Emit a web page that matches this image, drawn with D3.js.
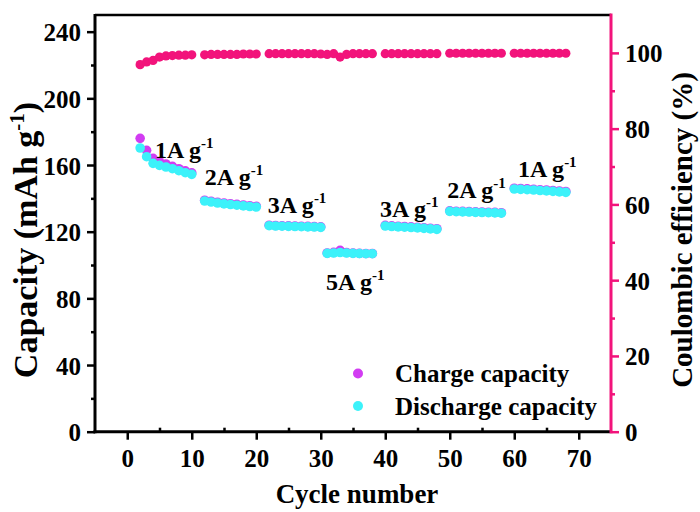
<!DOCTYPE html>
<html>
<head>
<meta charset="utf-8">
<script src="https://cdn.jsdelivr.net/npm/d3@7"></script>
<style>
  body { margin: 0; background: #fff; }
  svg text { font-family: "Liberation Serif", "Times New Roman", serif; font-weight: bold; fill: #000; }
</style>
</head>
<body>
<div id="chart"></div>
<script>
// cycle numbers that have a point
const cycles = [2, 3, 4, 5, 6, 7, 8, 9, 10,
  12, 13, 14, 15, 16, 17, 18, 19, 20,
  22, 23, 24, 25, 26, 27, 28, 29, 30, 31, 32, 33, 34, 35, 36, 37, 38,
  40, 41, 42, 43, 44, 45, 46, 47, 48,
  50, 51, 52, 53, 54, 55, 56, 57, 58,
  60, 61, 62, 63, 64, 65, 66, 67, 68];

const charge = [176.0, 168.8, 164.0, 162.0, 160.6, 159.2, 157.8, 156.5, 155.3,
  138.9, 138.3, 137.7, 137.2, 136.8, 136.4, 136.0, 135.6, 135.3,
  123.9, 123.7, 123.6, 123.5, 123.4, 123.3, 123.2, 123.1, 122.9, 107.2, 107.6, 108.8, 107.5, 107.2, 107.0, 106.9, 106.9,
  123.8, 123.5, 123.3, 123.1, 122.9, 122.7, 122.4, 122.1, 121.8,
  132.5, 132.3, 132.2, 132.1, 131.9, 131.8, 131.7, 131.6, 131.4,
  146.1, 145.9, 145.7, 145.5, 145.2, 145.0, 144.7, 144.4, 144.1];

const discharge = [170.2, 165.0, 161.0, 159.8, 158.8, 157.8, 156.6, 155.4, 154.4,
  138.4, 137.8, 137.2, 136.7, 136.3, 135.9, 135.5, 135.1, 134.8,
  123.6, 123.4, 123.3, 123.2, 123.1, 123.0, 122.9, 122.8, 122.6, 107.0, 107.2, 107.5, 107.2, 107.0, 106.9, 106.8, 106.8,
  123.4, 123.1, 122.9, 122.7, 122.5, 122.3, 122.0, 121.7, 121.4,
  132.2, 132.0, 131.9, 131.8, 131.6, 131.5, 131.4, 131.3, 131.1,
  145.6, 145.4, 145.2, 145.0, 144.7, 144.5, 144.2, 143.9, 143.6];

const efficiency = [96.9, 97.6, 98.0, 98.9, 99.2, 99.3, 99.4, 99.4, 99.5,
  99.5, 99.6, 99.6, 99.6, 99.6, 99.6, 99.7, 99.7, 99.7,
  99.8, 99.8, 99.8, 99.8, 99.8, 99.8, 99.8, 99.8, 99.7, 99.6, 99.8, 98.9, 99.6, 99.8, 99.8, 99.8, 99.8,
  99.8, 99.8, 99.8, 99.8, 99.8, 99.8, 99.8, 99.8, 99.8,
  99.9, 99.9, 99.9, 99.9, 99.9, 99.9, 99.9, 99.9, 99.9,
  99.9, 99.9, 99.9, 99.9, 99.9, 99.9, 99.9, 99.9, 99.9];

// current density labels: [cycle, capacity, text]
const rateLabels = [
  [4.3, 164, "1A g"], [12.0, 148, "2A g"], [21.8, 131, "3A g"],
  [30.8, 85, "5A g"], [39.2, 129, "3A g"], [49.6, 140, "2A g"], [60.6, 153, "1A g"]
];

const xTicks = [0, 10, 20, 30, 40, 50, 60, 70];
const xMinor = [5, 15, 25, 35, 45, 55, 65];
const yTicks = [0, 40, 80, 120, 160, 200, 240];
const yMinor = [20, 60, 100, 140, 180, 220];
const ceTicks = [0, 20, 40, 60, 80, 100];
const ceMinor = [10, 30, 50, 70, 90];

const W = 700, H = 512;
const mLeft = 95, mRight = 611, mTop = 15, mBottom = 431.7;
const PINK = "#f2137b", MAGENTA = "#d23cf2", CYAN = "#3cf2fa";

const svg = d3.select("#chart").append("svg")
  .attr("width", W).attr("height", H);

const x = d3.scaleLinear().domain([-5, 75]).range([mLeft, mRight]);
const y = d3.scaleLinear().domain([0, 250]).range([mBottom, mTop]);
const y2 = d3.scaleLinear().domain([0, 110]).range([mBottom, mTop]);

// points
const pts = cycles.map((c, i) => ({c: c, ch: charge[i], dis: discharge[i], ce: efficiency[i]}));

svg.append("g").selectAll("circle").data(pts).enter().append("circle")
  .attr("cx", d => x(d.c)).attr("cy", d => y2(d.ce)).attr("r", 4.6).attr("fill", PINK);
svg.append("g").selectAll("circle").data(pts).enter().append("circle")
  .attr("cx", d => x(d.c)).attr("cy", d => y(d.ch)).attr("r", 4.8).attr("fill", MAGENTA);
svg.append("g").selectAll("circle").data(pts).enter().append("circle")
  .attr("cx", d => x(d.c)).attr("cy", d => y(d.dis)).attr("r", 4.8).attr("fill", CYAN);

// rate labels
rateLabels.forEach(l => {
  const t = svg.append("text").attr("x", x(l[0])).attr("y", y(l[1])).attr("font-size", 24);
  t.append("tspan").text(l[2]);
  t.append("tspan").attr("font-size", 15).attr("dy", -10).text("-1");
});

// axes
function styleAxis(g, color) {
  g.select(".domain").remove();
  g.selectAll("line").attr("stroke", color).attr("stroke-width", 2.5);
  g.selectAll("text").attr("font-size", 25).attr("fill", "#000")
    .style("font-family", "Liberation Serif").style("font-weight", "bold");
}

const gx = svg.append("g").attr("transform", `translate(0,${mBottom})`)
  .call(d3.axisBottom(x).tickValues(xTicks).tickSize(8).tickPadding(10));
styleAxis(gx, "#000");
svg.append("g").attr("transform", `translate(0,${mBottom})`)
  .call(d3.axisTop(x).tickValues(xMinor).tickSize(4).tickFormat(""))
  .call(g => styleAxis(g, "#000"));

const gy = svg.append("g").attr("transform", `translate(${mLeft},0)`)
  .call(d3.axisLeft(y).tickValues(yTicks).tickSize(8).tickPadding(6));
styleAxis(gy, "#000");
gy.selectAll("text").attr("dy", "0.36em");
svg.append("g").attr("transform", `translate(${mLeft},0)`)
  .call(d3.axisLeft(y).tickValues(yMinor).tickSize(4).tickFormat(""))
  .call(g => styleAxis(g, "#000"));

const gy2 = svg.append("g").attr("transform", `translate(${mRight},0)`)
  .call(d3.axisRight(y2).tickValues(ceTicks).tickSize(8).tickPadding(6));
styleAxis(gy2, PINK);
gy2.selectAll("text").attr("dy", "0.36em");
svg.append("g").attr("transform", `translate(${mRight},0)`)
  .call(d3.axisRight(y2).tickValues(ceMinor).tickSize(4).tickFormat(""))
  .call(g => styleAxis(g, PINK));

// frame
svg.append("line").attr("x1", mLeft).attr("x2", mRight).attr("y1", mTop).attr("y2", mTop)
  .attr("stroke", "#000").attr("stroke-width", 2.5);
svg.append("line").attr("x1", mLeft).attr("x2", mLeft).attr("y1", mTop - 1).attr("y2", mBottom + 1.5)
  .attr("stroke", "#000").attr("stroke-width", 3);
svg.append("line").attr("x1", mLeft - 1.5).attr("x2", mRight).attr("y1", mBottom).attr("y2", mBottom)
  .attr("stroke", "#000").attr("stroke-width", 3);
svg.append("line").attr("x1", mRight).attr("x2", mRight).attr("y1", mTop - 1.5).attr("y2", mBottom + 1.5)
  .attr("stroke", PINK).attr("stroke-width", 3);

// axis titles
svg.append("text").attr("x", 357).attr("y", 503)
  .attr("text-anchor", "middle").attr("font-size", 27).text("Cycle number");

const yt = svg.append("text").attr("transform", "translate(37,240) rotate(-90)")
  .attr("text-anchor", "middle").attr("font-size", 34);
yt.append("tspan").text("Capacity (mAh g");
yt.append("tspan").attr("font-size", 21).attr("dy", -13).text("-1");
yt.append("tspan").attr("dy", 13).text(")");

svg.append("text").attr("transform", "translate(692,230) rotate(-90)")
  .attr("text-anchor", "middle").attr("font-size", 29).text("Coulombic efficiency (%)");

// legend
const legend = [["Charge capacity", MAGENTA], ["Discharge capacity", CYAN]];
legend.forEach((l, i) => {
  svg.append("circle").attr("cx", 358).attr("cy", 373.5 + i * 32.5).attr("r", 5).attr("fill", l[1]);
  svg.append("text").attr("x", 395).attr("y", 382 + i * 32.5).attr("font-size", 25).text(l[0]);
});
</script>
</body>
</html>
